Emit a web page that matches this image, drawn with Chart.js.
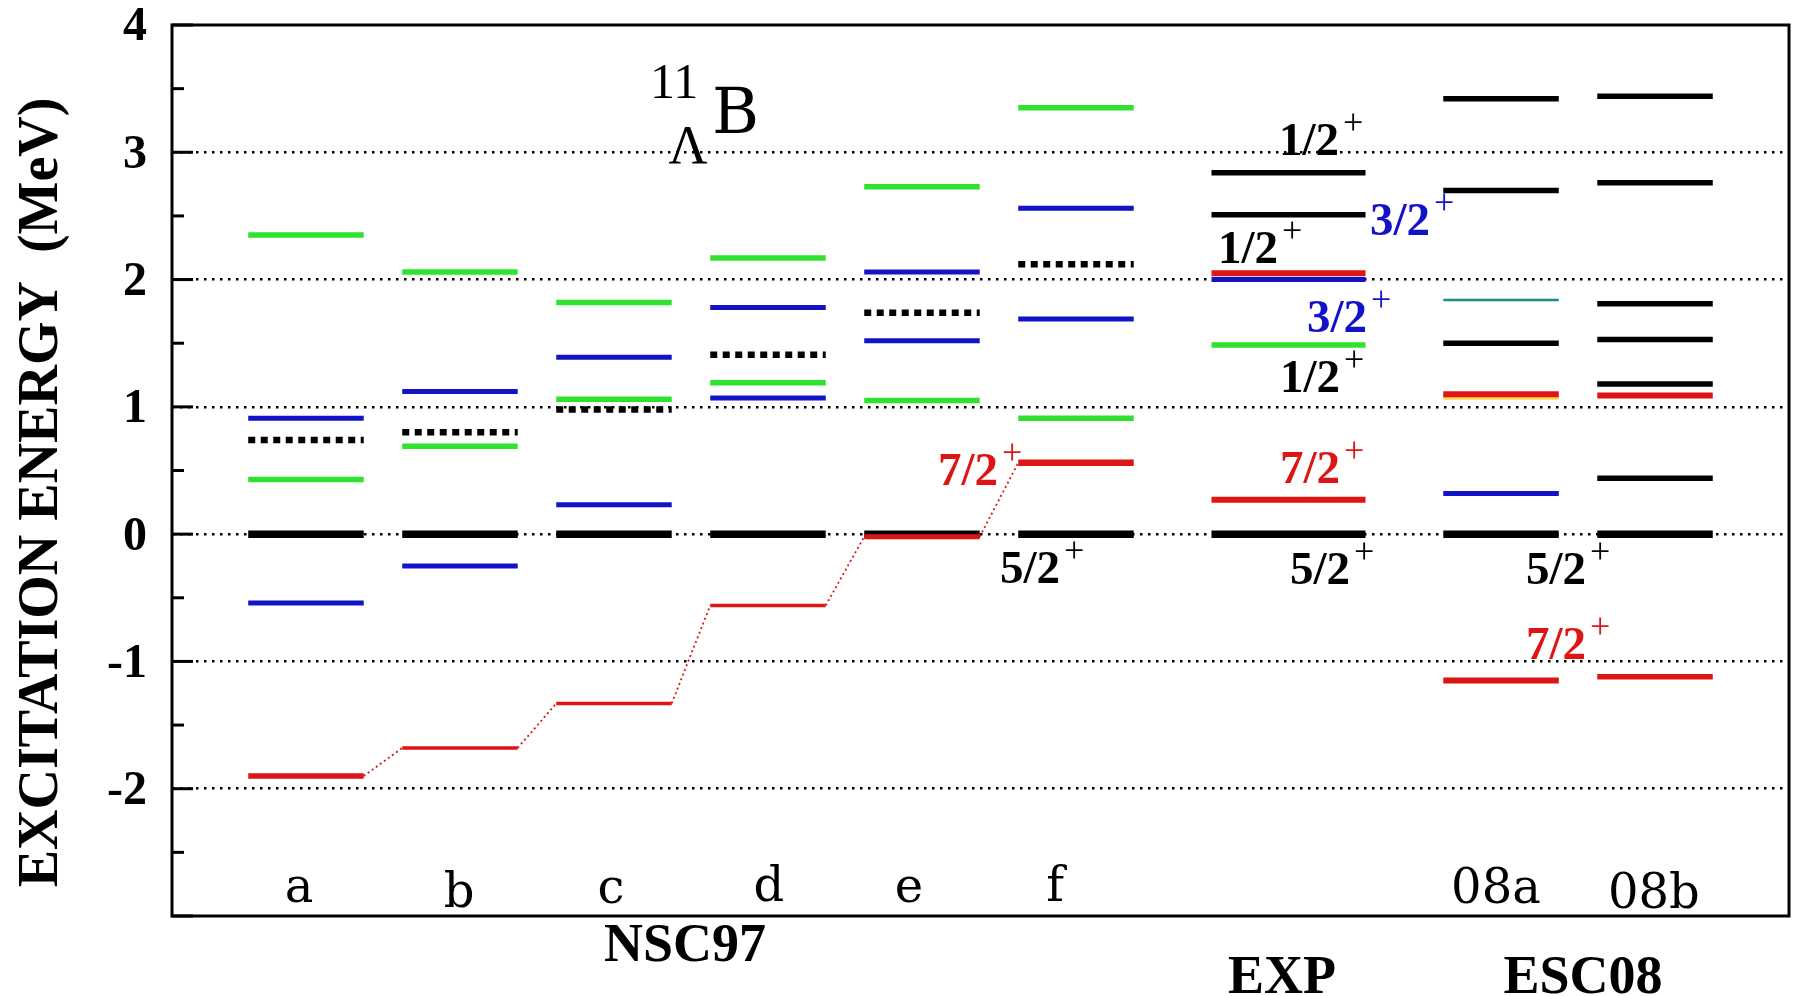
<!DOCTYPE html>
<html>
<head>
<meta charset="utf-8">
<script src="https://cdn.jsdelivr.net/npm/chart.js@4.4.0/dist/chart.umd.min.js"></script>
<style>
  html, body { margin: 0; padding: 0; background: #fff; }
  #wrap { width: 1796px; height: 996px; }
</style>
</head>
<body>
<div id="wrap"><canvas id="levelChart" width="1796" height="996"></canvas></div>
<script>
// columns of the level scheme and group names under the frame
const columns = ['a', 'b', 'c', 'd', 'e', 'f', 'EXP', '08a', '08b'];
const groupLabels = ['NSC97', 'EXP', 'ESC08'];
const yTickValues = [4, 3, 2, 1, 0, -1, -2];

// excitation energies in MeV, one entry per column
const groundLevels = [0, 0, 0, 0, 0, 0, 0, 0, 0];                                // 5/2+
const red72Levels = [-1.90, -1.68, -1.33, -0.56, -0.02, 0.56, 0.27, -1.15, -1.12]; // 7/2+
const greenLevels = [[2.35, 0.43], [2.06, 0.69], [1.82, 1.06], [2.17, 1.19], [2.73, 1.05], [3.35, 0.91], [1.485], [], []];
const blueLevels = [[0.91, -0.54], [1.12, -0.25], [1.39, 0.23], [1.78, 1.07], [2.06, 1.52], [2.56, 1.69], [2.00], [0.32], []];
const dottedLevels = [[0.74], [0.80], [0.98], [1.41], [1.74], [2.12], [], [], []];
const blackLevels = [[], [], [], [], [], [], [2.84, 2.51], [3.42, 2.70, 1.50], [3.44, 2.76, 1.81, 1.53, 1.18, 0.44]];
const extraRedLevels = [[], [], [], [], [], [], [2.05], [1.10], [1.09]];
const tealLevels = [[], [], [], [], [], [], [], [1.84], []];
const yellowLevels = [[], [], [], [], [], [], [], [1.075], []];

// layout of the columns on the x scale (not data)
const columnCenters = [1, 2, 3, 4, 5, 6, 7.38, 8.76, 9.76];
const halfWidths = [0.375, 0.375, 0.375, 0.375, 0.375, 0.375, 0.5, 0.375, 0.375];
const red72Widths = [5.5, 3.5, 3.5, 3.5, 5, 6.5, 6, 6, 5.5];
const xMin = 0.13, xMax = 10.63;

const GREEN = '#2ee22e', BLUE = '#1212c8', RED = '#dd1515', BLACK = '#000000';
const SERIF = '"Liberation Serif", "Times New Roman", serif';
const WIDE_SERIF = '"DejaVu Serif", serif';

// text annotations, placed in data units
const spinLabels = [
    { text: '7/2', color: RED, x: 5.494, y: 0.385 },
    { text: '5/2', color: BLACK, x: 5.896, y: -0.385 },
    { text: '1/2', color: BLACK, x: 7.708, y: 2.977 },
    { text: '3/2', color: BLUE, x: 8.299, y: 2.349 },
    { text: '1/2', color: BLACK, x: 7.312, y: 2.129 },
    { text: '3/2', color: BLUE, x: 7.890, y: 1.587 },
    { text: '1/2', color: BLACK, x: 7.714, y: 1.115 },
    { text: '7/2', color: RED, x: 7.714, y: 0.40 },
    { text: '5/2', color: BLACK, x: 7.779, y: -0.39 },
    { text: '5/2', color: BLACK, x: 9.312, y: -0.39 },
    { text: '7/2', color: RED, x: 9.312, y: -0.98 }
];
const columnLabelX = [0.955, 1.994, 2.98, 4.006, 4.916, 5.864, null, 8.727, 9.753];
const columnLabelY = [-2.891, -2.930, -2.899, -2.883, -2.891, -2.883, null, -2.899, -2.938];
const groupLabelX = [3.461, 7.338, 9.292];
const groupLabelY = [-3.35, -3.606, -3.606];

function levelDataset(col, energy, color, width, dash) {
    const c = columnCenters[col], h = halfWidths[col];
    return {
        data: [{ x: c - h, y: energy }, { x: c + h, y: energy }],
        borderColor: color,
        borderWidth: width,
        borderDash: dash || [],
        borderCapStyle: 'butt',
        pointRadius: 0,
        fill: false
    };
}

const datasets = [];
// thin dotted red lines joining the 7/2+ levels of a..f
for (let i = 0; i < 5; i++) {
    datasets.push({
        data: [
            { x: columnCenters[i] + halfWidths[i], y: red72Levels[i] },
            { x: columnCenters[i + 1] - halfWidths[i + 1], y: red72Levels[i + 1] }
        ],
        borderColor: RED, borderWidth: 1.8, borderDash: [2, 3], pointRadius: 0, fill: false
    });
}
dottedLevels.forEach((list, i) => list.forEach(e => datasets.push(levelDataset(i, e, BLACK, 6.5, [7, 5.5]))));
greenLevels.forEach((list, i) => list.forEach(e => datasets.push(levelDataset(i, e, GREEN, 5.5))));
blueLevels.forEach((list, i) => list.forEach(e => datasets.push(levelDataset(i, e, BLUE, 5))));
yellowLevels.forEach((list, i) => list.forEach(e => datasets.push(levelDataset(i, e, '#ffd84a', 5))));
tealLevels.forEach((list, i) => list.forEach(e => datasets.push(levelDataset(i, e, '#1f8a8a', 2.5))));
blackLevels.forEach((list, i) => list.forEach(e => datasets.push(levelDataset(i, e, BLACK, 5.5))));
groundLevels.forEach((e, i) => datasets.push(levelDataset(i, e, BLACK, 7.5)));
red72Levels.forEach((e, i) => datasets.push(levelDataset(i, e, RED, red72Widths[i])));
extraRedLevels.forEach((list, i) => list.forEach(e => datasets.push(levelDataset(i, e, RED, 6))));
// later datasets on top
datasets.forEach((d, i) => { d.order = datasets.length - i; });

const levelDecor = {
    id: 'levelDecor',
    afterDraw(chart) {
        const { ctx, chartArea: area, scales: { x, y } } = chart;
        ctx.save();
        ctx.strokeStyle = BLACK;
        ctx.lineWidth = 3;
        // tick marks inside the left edge
        y.ticks.forEach(t => {
            const py = y.getPixelForValue(t.value);
            const len = Number.isInteger(t.value) ? 21 : 12;
            ctx.beginPath();
            ctx.moveTo(area.left, py);
            ctx.lineTo(area.left + len, py);
            ctx.stroke();
        });
        ctx.strokeRect(area.left, area.top, area.right - area.left, area.bottom - area.top);

        // spin labels
        ctx.textBaseline = 'alphabetic';
        spinLabels.forEach(l => {
            const px = x.getPixelForValue(l.x), py = y.getPixelForValue(l.y);
            ctx.fillStyle = l.color;
            ctx.textAlign = 'right';
            ctx.font = 'bold 47px ' + SERIF;
            ctx.fillText(l.text, px, py);
            ctx.textAlign = 'left';
            ctx.font = '36px ' + SERIF;
            ctx.fillText('+', px + 4, py - 21);
        });

        // column names inside the frame
        ctx.fillStyle = BLACK;
        ctx.textAlign = 'center';
        ctx.font = '48px ' + WIDE_SERIF;
        columns.forEach((name, i) => {
            if (columnLabelX[i] === null) return;
            ctx.fillText(name, x.getPixelForValue(columnLabelX[i]), y.getPixelForValue(columnLabelY[i]));
        });

        // group names under the frame
        ctx.font = 'bold 54px ' + SERIF;
        groupLabels.forEach((name, i) => {
            ctx.fillText(name, x.getPixelForValue(groupLabelX[i]), y.getPixelForValue(groupLabelY[i]));
        });

        // nucleus name
        ctx.textAlign = 'left';
        ctx.font = '50px ' + SERIF;
        ctx.fillText('11', x.getPixelForValue(3.234), y.getPixelForValue(3.425));
        ctx.font = '64px ' + WIDE_SERIF;
        ctx.fillText('B', x.getPixelForValue(3.636), y.getPixelForValue(3.150));
        ctx.textAlign = 'center';
        ctx.font = '54px ' + SERIF;
        ctx.fillText('Λ', x.getPixelForValue(3.481), y.getPixelForValue(2.914));

        // y axis title
        ctx.translate(57, (area.top + area.bottom) / 2 + 22);
        ctx.rotate(-Math.PI / 2);
        ctx.textAlign = 'center';
        ctx.font = 'bold 56px ' + SERIF;
        ctx.fillText('EXCITATION ENERGY  (MeV)', 0, 0);
        ctx.restore();
    }
};

new Chart(document.getElementById('levelChart').getContext('2d'), {
    type: 'line',
    data: { datasets: datasets },
    options: {
        responsive: false,
        animation: false,
        devicePixelRatio: 1,
        layout: { padding: { top: 25, right: 7, left: 0, bottom: 0 } },
        plugins: {
            legend: { display: false },
            tooltip: { enabled: false }
        },
        scales: {
            x: {
                type: 'linear',
                min: xMin,
                max: xMax,
                grid: { display: false },
                border: { display: false },
                ticks: { display: false },
                afterFit: scale => {
                    scale.height = 80;
                    scale.paddingLeft = 0;
                    scale.paddingRight = 0;
                }
            },
            y: {
                type: 'linear',
                min: -3,
                max: 4,
                afterFit: scale => {
                    scale.width = 172;
                    scale.paddingTop = 0;
                    scale.paddingBottom = 0;
                },
                ticks: {
                    stepSize: 0.5,
                    padding: 25,
                    labelOffset: 3,
                    color: BLACK,
                    font: { family: SERIF, size: 48, weight: 'bold' },
                    callback: v => yTickValues.includes(v) ? String(v) : ''
                },
                grid: {
                    drawTicks: false,
                    lineWidth: 2.5,
                    color: c => (Number.isInteger(c.tick.value) && c.tick.value > -3 && c.tick.value < 4) ? BLACK : 'rgba(0,0,0,0)'
                },
                border: { display: false, dash: [2.5, 5.5] }
            }
        }
    },
    plugins: [levelDecor]
});
</script>
</body>
</html>
